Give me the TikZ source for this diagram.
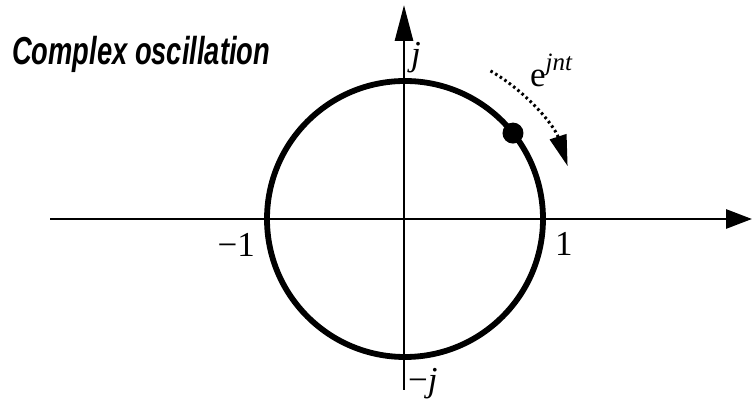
\documentclass[tikz,border=0pt]{standalone}
\usepackage{fontspec}
\setmainfont{Liberation Serif}
\newfontfamily\titlefont{Liberation Sans}
\usetikzlibrary{arrows.meta}
\tikzset{
  axisline/.style={line width=2.9pt},
  lbl/.style={inner sep=0pt, font=\fontsize{35}{40}\selectfont},
}
\begin{document}
\begin{tikzpicture}[x=1pt,y=1pt]
\useasboundingbox (0,0) rectangle (753,404);
\coordinate (O) at (405,185);
% axes
\coordinate (xl) at (50,185);
\coordinate (xr) at (752,185);
\coordinate (yb) at (404,14);
\coordinate (yt) at (404,399);
\draw[axisline,-{Triangle[length=26pt,width=19pt]}] (xl) -- (xr);
\draw[axisline,-{Triangle[length=36pt,width=18pt]}] (yb) -- (yt);
% unit circle
\draw[line width=5.8pt] (O) circle[radius=138];
% moving point
\fill (O) ++(38.5:138) coordinate (P) circle[radius=10.5];
% dotted rotation arrow
\draw[line width=3pt, dash pattern=on 2.5pt off 3pt,
      -{Triangle[length=31pt,width=17pt]}]
  (O) ++(60:171) coordinate (rs) arc[start angle=60,end angle=18,radius=171];
% labels
\node[lbl,anchor=base west] (lj) at (411,338) {\itshape j};
\node[lbl,anchor=base west] (lmj) at (408,12) {−\itshape j};
\node[lbl,anchor=base east] (lm1) at (255,147) {−1};
\node[lbl,anchor=base west] (l1) at (555,148) {1};
\node[lbl,anchor=base west] (le) at (530,317)
  {e\raisebox{16pt}{\fontsize{25}{28}\selectfont\itshape jnt}};
\node[inner sep=0pt,anchor=base west] (title) at (12,339)
  {\scalebox{0.7}[1]{\titlefont\bfseries\itshape\fontsize{39}{44}\selectfont Complex oscillation}};
\end{tikzpicture}
\end{document}
